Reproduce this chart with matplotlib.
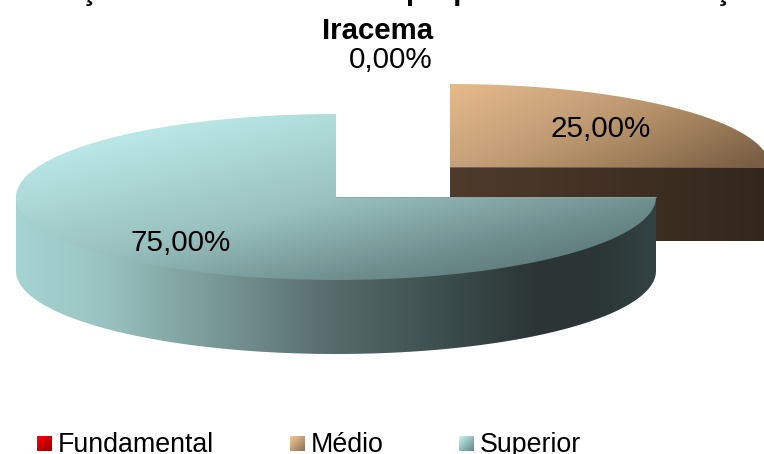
import numpy as np
import matplotlib
matplotlib.use('Agg')
import matplotlib.pyplot as plt
from matplotlib.colors import to_rgb
from matplotlib.patches import Polygon

plt.rcParams['font.family'] = ['Liberation Sans', 'DejaVu Sans']

# dados do grafico
title_lines = ['Formações docentes da rede própria nível de formação', 'Iracema']
categories = ['Fundamental', 'Médio', 'Superior']
shares = [0.0, 25.0, 75.0]

W, H = 764, 454
RX, RY, DEPTH = 320, 83, 74


def gradient(ax, box, clip, stops, direction):
    """pinta um gradiente linear dentro de box, recortado por clip"""
    x0, x1, y0, y1 = box
    xs = np.arange(x0, x1 + 1)
    ys = np.arange(y0, y1 + 1)
    xx, yy = np.meshgrid(xs, ys)
    u = xx * direction[0] + yy * direction[1]
    pos = [s[0] for s in stops]
    rgb = np.array([to_rgb(s[1]) for s in stops])
    img = np.dstack([np.interp(u, pos, rgb[:, i]) for i in range(3)])
    im = ax.imshow(img, extent=(x0, x1 + 1, y1 + 1, y0), aspect='auto',
                   interpolation='bilinear', zorder=2)
    patch = Polygon(clip, closed=True, transform=ax.transData, fill=False, lw=0)
    ax.add_patch(patch)
    im.set_clip_path(patch)


def arc(cx, cy, t0, t1, dy=0, scale=1.0):
    t = np.radians(np.linspace(t0, t1, 240))
    return np.column_stack([cx + scale * RX * np.cos(t),
                            cy + dy - scale * RY * np.sin(t)])


fig = plt.figure(figsize=(W / 100, H / 100), dpi=100, facecolor='white')
ax = fig.add_axes([0, 0, 1, 1])

# angulos das fatias a partir do valor, sentido horario desde o topo
ends = 90 - np.cumsum(shares) * 3.6
starts = np.concatenate([[90], ends[:-1]])

# Medio: fatia deslocada, atras
cx, cy = 450, 167
t0, t1 = starts[1], ends[1]
rim = arc(cx, cy, t0, t1)
gradient(ax, (cx, cx + RX, cy, cy + DEPTH),
         [(cx, cy), (cx + RX, cy), (cx + RX, cy + DEPTH), (cx, cy + DEPTH)],
         [(450, '#4f3b2b'), (770, '#33261c')], (1, 0))
gradient(ax, (cx, cx + RX, cy - RY, cy),
         np.vstack([[cx, cy], rim]),
         [(310, '#e6bb8b'), (390, '#c8a27a'), (430, '#b8946c'),
          (480, '#9c7c59'), (540, '#7a5e44')], (0.5, 1))
ax.plot([cx, cx + RX], [cy, cy], color='#7a6a5c', lw=0.6, zorder=3)

# Superior: fatia grande na frente
cx, cy = 336, 197
t0, t1 = starts[2], ends[2]
# a borda de cima da parede entra um pouco por baixo do tampo
inner = arc(cx, cy, t0, -180, scale=0.985)
wall = np.vstack([arc(cx, cy, t0, t0), inner, arc(cx, cy, -180, -180),
                  arc(cx, cy, -180, t0, dy=DEPTH)])
gradient(ax, (cx - RX, cx + RX, cy, cy + RY + DEPTH), wall,
         [(16, '#a5d4d2'), (100, '#9ac4c2'), (200, '#7c9e9c'), (336, '#566a6a'),
          (450, '#3b4c4c'), (540, '#2b3534'), (600, '#2b3636'), (656, '#334344')],
         (1, 0))
rim = arc(cx, cy, t0, t1)
gradient(ax, (cx - RX, cx + RX, cy - RY, cy + RY),
         np.vstack([[cx, cy], rim]),
         [(170, '#b8e6e4'), (280, '#98c0be'), (360, '#6e8e8e'), (420, '#567070')],
         (0.24, 1))
ax.plot([cx, cx + RX], [cy, cy], color='#8aa3a3', lw=0.6, zorder=3)

# rotulos
labels = [f'{v:.2f}'.replace('.', ',') + '%' for v in shares]
label_pos = [(432, 68, 'right'), (601, 137, 'center'), (181, 251, 'center')]
for text, (x, y, ha) in zip(labels, label_pos):
    ax.text(x, y, text, fontsize=21.3, ha=ha, va='baseline', color='black', zorder=5)

# titulo cortado pela borda de cima
ax.text(378, -0.5, title_lines[0], fontsize=21.2, fontweight='bold', ha='center',
        va='baseline', zorder=5)
ax.text(378, 39, title_lines[1], fontsize=21.2, fontweight='bold', ha='center',
        va='baseline', zorder=5)

# legenda
swatch_x = [37, 290, 459]
swatch_colors = [('#ff0000', '#900000'), ('#f0c89a', '#8a6c50'), ('#c0f4f2', '#5f7f7f')]
for name, x, (c0, c1) in zip(categories, swatch_x, swatch_colors):
    box = [(x, 436), (x + 15, 436), (x + 15, 451), (x, 451)]
    gradient(ax, (x, x + 15, 436, 451), box,
             [(x + 436, c0), (x + 466, c1)], (1, 1))
    ax.text(x + 21, 451.5, name, fontsize=19.3, ha='left', va='baseline', zorder=5)

ax.set_xlim(0, W)
ax.set_ylim(H, 0)
ax.axis('off')

fig.savefig('out.png', dpi=100, facecolor='white')
